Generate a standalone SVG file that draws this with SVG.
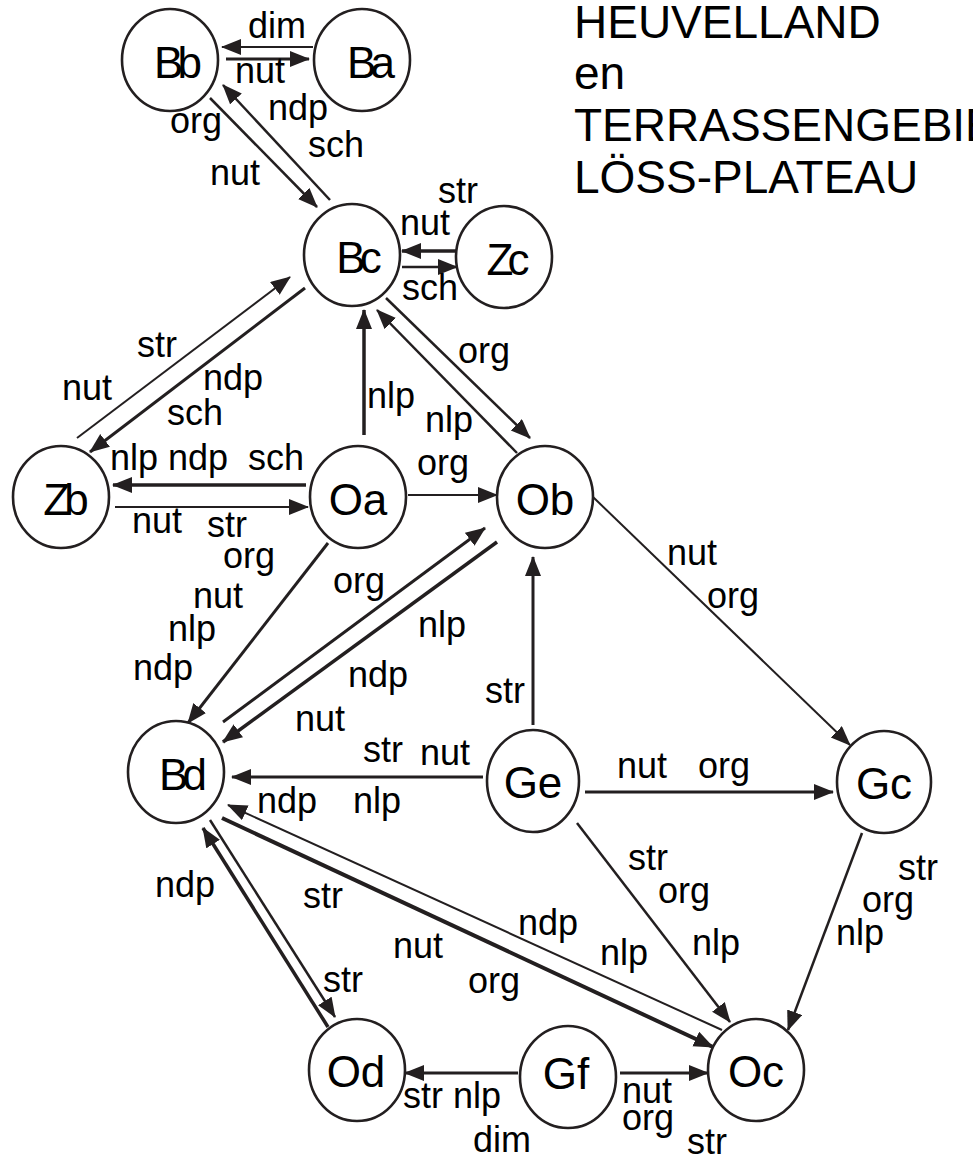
<svg xmlns="http://www.w3.org/2000/svg" width="973" height="1160" viewBox="0 0 973 1160">
  <style>
    .node ellipse { fill: #ffffff; stroke: #231f20; stroke-width: 2.6; }
    .node text { font-family: "Liberation Sans", Arial, sans-serif; font-size: 44px; fill: #000; text-anchor: middle; dominant-baseline: central; }
    .tight text { letter-spacing: -6px; }
    .edge { stroke: #231f20; fill: none; marker-end: url(#head); }
    .w2 { stroke-width: 2; }
    .w25 { stroke-width: 2.5; }
    .w3 { stroke-width: 3; }
    .w35 { stroke-width: 3.5; }
    .w4 { stroke-width: 4; }
    .lbl { font-family: "Liberation Sans", Arial, sans-serif; font-size: 36px; fill: #000; }
    .title { font-family: "Liberation Sans", Arial, sans-serif; font-size: 46px; fill: #000; }
  </style>
  <defs>
    <marker id="head" markerUnits="userSpaceOnUse" markerWidth="22" markerHeight="18" refX="19" refY="8" orient="auto">
      <path d="M0,0 L20,8 L0,16 z" fill="#231f20"/>
    </marker>
  </defs>

  <!-- title block -->
  <g id="title" class="title">
    <text x="574" y="38">HEUVELLAND</text>
    <text x="574" y="89">en</text>
    <text x="574" y="141">TERRASSENGEBIED</text>
    <text x="574" y="193">LÖSS-PLATEAU</text>
  </g>

  <!-- connectors -->
  <g id="connectors">
    <line class="edge w2" x1="313" y1="47" x2="222" y2="47"/>
    <line class="edge w3" x1="226" y1="59" x2="309" y2="59"/>
    <line class="edge w25" x1="210" y1="98" x2="317" y2="207"/>
    <line class="edge w25" x1="330" y1="200" x2="223" y2="85"/>
    <line class="edge w35" x1="457" y1="251" x2="402" y2="251"/>
    <line class="edge w25" x1="402" y1="267" x2="457" y2="267"/>
    <line class="edge w3" x1="305" y1="288" x2="90" y2="452"/>
    <line class="edge w2" x1="77" y1="438" x2="290" y2="277"/>
    <line class="edge w35" x1="306" y1="485" x2="113" y2="485"/>
    <line class="edge w2" x1="115" y1="507" x2="308" y2="507"/>
    <line class="edge w35" x1="364" y1="435" x2="364" y2="310"/>
    <line class="edge w25" x1="517" y1="453" x2="377" y2="310"/>
    <line class="edge w25" x1="386" y1="298" x2="530" y2="438"/>
    <line class="edge w2" x1="408" y1="495" x2="497" y2="495"/>
    <line class="edge w3" x1="328" y1="543" x2="188" y2="723"/>
    <line class="edge w3" x1="223" y1="722" x2="485" y2="528"/>
    <line class="edge w35" x1="497" y1="542" x2="223" y2="742"/>
    <line class="edge w2" x1="593" y1="497" x2="850" y2="745"/>
    <line class="edge w3" x1="533" y1="725" x2="533" y2="557"/>
    <line class="edge w3" x1="483" y1="777" x2="232" y2="777"/>
    <line class="edge w3" x1="585" y1="792" x2="833" y2="792"/>
    <line class="edge w25" x1="577" y1="823" x2="730" y2="1022"/>
    <line class="edge w25" x1="862" y1="833" x2="788" y2="1030"/>
    <line class="edge w2" x1="722" y1="1030" x2="228" y2="805"/>
    <line class="edge w4" x1="222" y1="818" x2="713" y2="1047"/>
    <line class="edge w35" x1="328" y1="1027" x2="203" y2="828"/>
    <line class="edge w25" x1="210" y1="820" x2="335" y2="1017"/>
    <line class="edge w3" x1="518" y1="1073" x2="405" y2="1073"/>
    <line class="edge w3" x1="620" y1="1073" x2="708" y2="1073"/>
  </g>

  <!-- connector labels -->
  <g id="labels" class="lbl">
    <text x="248" y="38">dim</text>
    <text x="235" y="83">nut</text>
    <text x="268" y="120">ndp</text>
    <text x="170" y="133">org</text>
    <text x="308" y="157">sch</text>
    <text x="210" y="185">nut</text>
    <text x="438" y="203">str</text>
    <text x="400" y="235">nut</text>
    <text x="402" y="300">sch</text>
    <text x="137" y="357">str</text>
    <text x="62" y="400">nut</text>
    <text x="203" y="390">ndp</text>
    <text x="167" y="425">sch</text>
    <text x="110" y="470">nlp</text>
    <text x="168" y="470">ndp</text>
    <text x="248" y="470">sch</text>
    <text x="132" y="533">nut</text>
    <text x="207" y="537">str</text>
    <text x="367" y="408">nlp</text>
    <text x="458" y="363">org</text>
    <text x="425" y="432">nlp</text>
    <text x="417" y="475">org</text>
    <text x="223" y="568">org</text>
    <text x="193" y="608">nut</text>
    <text x="168" y="641">nlp</text>
    <text x="133" y="680">ndp</text>
    <text x="333" y="593">org</text>
    <text x="418" y="637">nlp</text>
    <text x="348" y="687">ndp</text>
    <text x="295" y="731">nut</text>
    <text x="363" y="762">str</text>
    <text x="420" y="765">nut</text>
    <text x="257" y="813">ndp</text>
    <text x="353" y="813">nlp</text>
    <text x="485" y="703">str</text>
    <text x="667" y="565">nut</text>
    <text x="707" y="608">org</text>
    <text x="617" y="778">nut</text>
    <text x="698" y="778">org</text>
    <text x="155" y="897">ndp</text>
    <text x="303" y="908">str</text>
    <text x="393" y="958">nut</text>
    <text x="323" y="992">str</text>
    <text x="468" y="993">org</text>
    <text x="628" y="870">str</text>
    <text x="658" y="903">org</text>
    <text x="692" y="955">nlp</text>
    <text x="518" y="935">ndp</text>
    <text x="600" y="965">nlp</text>
    <text x="898" y="880">str</text>
    <text x="862" y="912">org</text>
    <text x="836" y="945">nlp</text>
    <text x="403" y="1108">str nlp</text>
    <text x="473" y="1152">dim</text>
    <text x="622" y="1103">nut</text>
    <text x="622" y="1130">org</text>
    <text x="687" y="1154">str</text>
  </g>

  <!-- nodes -->
  <g id="Bb" class="node tight"><ellipse cx="170" cy="60" rx="48" ry="51"/><text x="175" y="62">Bb</text></g>
  <g id="Ba" class="node tight"><ellipse cx="362" cy="60" rx="48" ry="51"/><text x="368" y="62">Ba</text></g>
  <g id="Bc" class="node tight"><ellipse cx="352" cy="255" rx="48" ry="51"/><text x="356" y="257">Bc</text></g>
  <g id="Zc" class="node tight"><ellipse cx="504" cy="257" rx="48" ry="51"/><text x="505" y="259">Zc</text></g>
  <g id="Zb" class="node tight"><ellipse cx="61" cy="497" rx="48" ry="51"/><text x="63" y="499">Zb</text></g>
  <g id="Oa" class="node"><ellipse cx="358" cy="497" rx="48" ry="51"/><text x="358" y="499">Oa</text></g>
  <g id="Ob" class="node"><ellipse cx="545" cy="497" rx="48" ry="51"/><text x="545" y="499">Ob</text></g>
  <g id="Bd" class="node tight"><ellipse cx="176" cy="772" rx="48" ry="51"/><text x="180" y="774">Bd</text></g>
  <g id="Ge" class="node"><ellipse cx="533" cy="781" rx="46" ry="51"/><text x="533" y="782">Ge</text></g>
  <g id="Gc" class="node"><ellipse cx="884" cy="782" rx="47" ry="51"/><text x="884" y="783">Gc</text></g>
  <g id="Od" class="node"><ellipse cx="357" cy="1070" rx="48" ry="51"/><text x="356" y="1071">Od</text></g>
  <g id="Gf" class="node"><ellipse cx="568" cy="1077" rx="48" ry="51"/><text x="566" y="1073">Gf</text></g>
  <g id="Oc" class="node"><ellipse cx="756" cy="1070" rx="48" ry="51"/><text x="756" y="1071">Oc</text></g>
</svg>
